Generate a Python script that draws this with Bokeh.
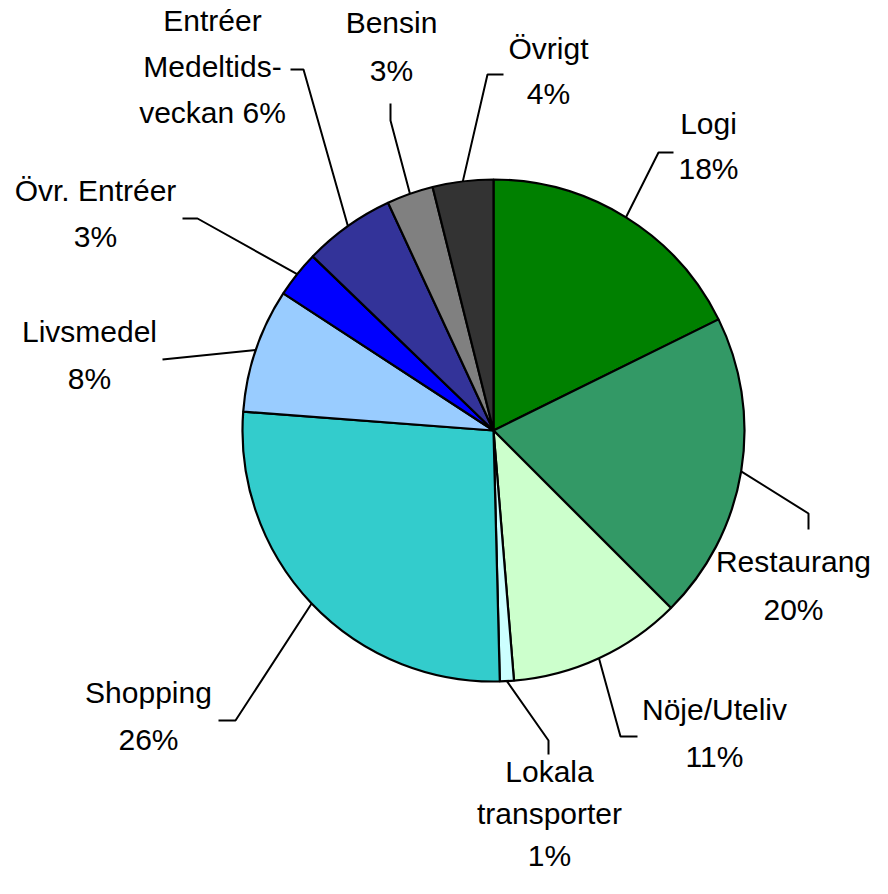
import math
from bokeh.plotting import figure
from bokeh.models import Range1d, ColumnDataSource
from bokeh.core.properties import value
from bokeh.embed import file_html
from bokeh.resources import INLINE

# ---------------- data ----------------
CATEGORIES = ["Logi", "Restaurang", "Nöje/Uteliv", "Lokala transporter", "Shopping",
              "Livsmedel", "Övr. Entréer", "Entréer Medeltidsveckan", "Bensin", "Övrigt"]
SHARES = [17.7, 19.8, 11.2, 0.9, 26.6, 8.0, 3.0, 5.9, 3.0, 3.9]
PCT_LABELS = ["18%", "20%", "11%", "1%", "26%", "8%", "3%", "6%", "3%", "4%"]
NAME_LINES = [["Logi"], ["Restaurang"], ["Nöje/Uteliv"], ["Lokala", "transporter"],
              ["Shopping"], ["Livsmedel"], ["Övr. Entréer"],
              ["Entréer", "Medeltids-", "veckan"], ["Bensin"], ["Övrigt"]]
PCT_INLINE = [False, False, False, False, False, False, False, True, False, False]

COLORS = ["#008000", "#339966", "#CCFFCC", "#CCFFFF", "#33CCCC",
          "#99CCFF", "#0000FF", "#333399", "#808080", "#333333"]

# ---------------- layout (pixels from top-left of the figure) ----------------
FW, FH = 872, 878
CX, CY, R = 493, 430, 251
LABEL_X = [708, 793, 714, 549, 148, 89, 95, 212, 391, 548]
LABEL_Y = [123, 561, 709, 771, 692, 331, 190, 20, 22, 48]   # visual centre of first line
LINE_GAPS = [45, 48, 47, 42, 47, 47, 46, 46, 48, 45]
ELBOWS = [
    [(658, 152), (673, 152)],
    [(808, 513), (808, 529)],
    [(620, 736), (637, 736)],
    [(548, 740), (548, 754)],
    [(235, 720), (218, 720)],
    [(162, 359)],
    [(197, 218), (182, 218)],
    [(303, 69), (290, 69)],
    [(390, 120), (390, 103)],
    [(487, 74), (503, 74)],
]
FONT = "Liberation Sans"
FONT_SIZE = "30px"


def fy(sy):
    return FH - sy


p = figure(width=FW, height=FH, output_backend="svg", toolbar_location=None,
           x_range=Range1d(0, FW), y_range=Range1d(0, FH),
           x_axis_type=None, y_axis_type=None, min_border=0,
           background_fill_color="white", border_fill_color="white")
p.grid.visible = False
p.outline_line_color = None

total = sum(SHARES)
starts, ends, mids = [], [], []
cum = 0.0
for s in SHARES:
    a0 = cum / total
    a1 = (cum + s) / total
    starts.append(math.pi / 2 - 2 * math.pi * a1)
    ends.append(math.pi / 2 - 2 * math.pi * a0)
    mids.append(2 * math.pi * (a0 + a1) / 2)
    cum += s

src = ColumnDataSource(dict(x=[CX] * len(SHARES), y=[fy(CY)] * len(SHARES),
                            start=starts, end=ends, color=COLORS, cat=CATEGORIES))
p.wedge(x="x", y="y", radius=R, start_angle="start", end_angle="end",
        fill_color="color", line_color="black", line_width=2.2, source=src)

# leader lines
xs, ys = [], []
for m, el in zip(mids, ELBOWS):
    ex = CX + R * math.sin(m)
    ey = fy(CY) + R * math.cos(m)
    xs.append([ex] + [e[0] for e in el])
    ys.append([ey] + [fy(e[1]) for e in el])
p.multi_line(xs=xs, ys=ys, line_color="black", line_width=2)

# labels
tx, ty, tt = [], [], []
for i in range(len(CATEGORIES)):
    lines = list(NAME_LINES[i])
    if PCT_INLINE[i]:
        lines[-1] = lines[-1] + " " + PCT_LABELS[i]
    else:
        lines.append(PCT_LABELS[i])
    for j, ln in enumerate(lines):
        sy = LABEL_Y[i] + j * LINE_GAPS[i]
        tx.append(LABEL_X[i])
        ty.append(fy(sy))
        tt.append(ln)
p.text(x=tx, y=ty, text=tt, text_align="center", text_baseline="alphabetic",
       text_font=value(FONT), text_font_size=FONT_SIZE, text_color="black")

open("out.html", "w").write(file_html(p, INLINE))
